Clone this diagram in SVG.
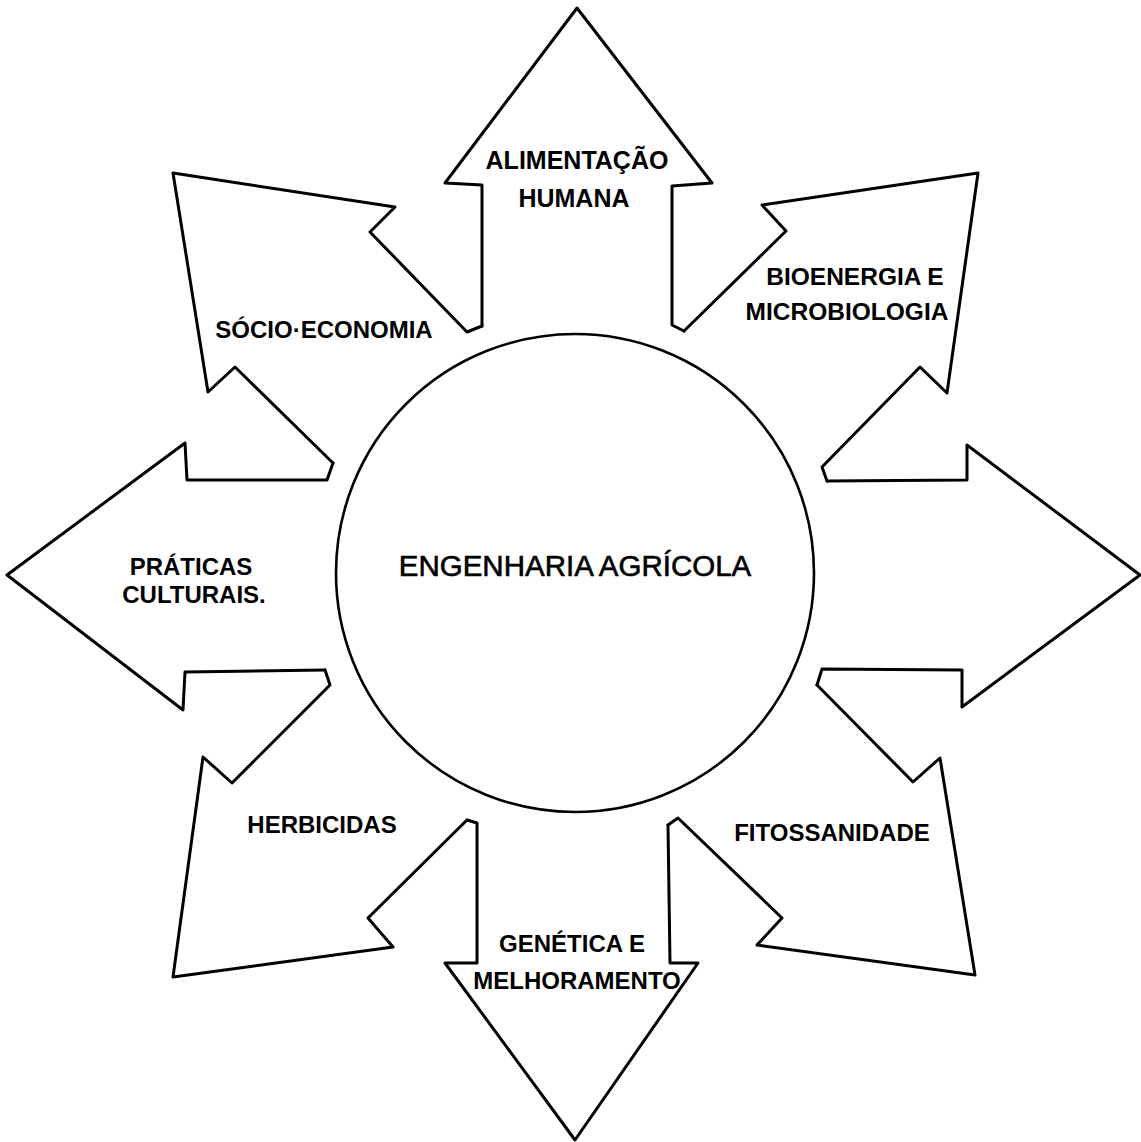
<svg xmlns="http://www.w3.org/2000/svg" width="1141" height="1142" viewBox="0 0 1141 1142">
  <style>
    .outline { fill: none; stroke: #000; stroke-width: 3; stroke-linejoin: round; stroke-linecap: round; }
    .hub { fill: none; stroke: #000; stroke-width: 2.6; }
    .lbl { font-family: "Liberation Sans", Arial, Helvetica, sans-serif; font-weight: bold; font-size: 24px; fill: #000; text-anchor: middle; }
    .hub-lbl { font-family: "Liberation Sans", Arial, Helvetica, sans-serif; font-size: 29.5px; fill: #000; stroke: #000; stroke-width: 0.6; text-anchor: middle; }
  </style>
  <rect width="1141" height="1142" fill="#fff"/>

  <!-- central hub -->
  <g id="engenharia-agricola">
    <circle class="hub" cx="575" cy="573" r="239"/>
    <text class="hub-lbl" x="575" y="576">ENGENHARIA AGRÍCOLA</text>
  </g>

  <!-- the eight arrows share their shaft ends, forming one closed outline around the hub -->
  <g id="connectors">
    <g id="alimentacao-humana">
      <polyline class="outline" points="482,326 482,185 445,183 577,8 712,183 672,186 672,325 684,331"/>
      <text class="lbl" x="577" y="169" style="font-size:25px">ALIMENTAÇÃO</text>
      <text class="lbl" x="574" y="207" style="font-size:25px">HUMANA</text>
    </g>
    <g id="bioenergia-microbiologia">
      <polyline class="outline" points="684,331 786,231 762,205 978,173 947,393 920,367 822,467 827,481"/>
      <text class="lbl" x="855" y="285" style="font-size:24.5px">BIOENERGIA E</text>
      <text class="lbl" x="847" y="320" style="font-size:24.5px">MICROBIOLOGIA</text>
    </g>
    <g id="seta-direita">
      <polyline class="outline" points="827,481 967,480 967,445 1140,575 962,707 962,670 822,669 817,685"/>
    </g>
    <g id="fitossanidade">
      <polyline class="outline" points="817,685 913,782 940,758 975,975 757,945 782,918 678,818 668,825"/>
      <text class="lbl" x="832" y="841">FITOSSANIDADE</text>
    </g>
    <g id="genetica-melhoramento">
      <polyline class="outline" points="668,825 670,963 698,963 575,1140 445,963 477,963 477,823 467,820"/>
      <text class="lbl" x="572" y="952">GENÉTICA E</text>
      <text class="lbl" x="577" y="989">MELHORAMENTO</text>
    </g>
    <g id="herbicidas">
      <polyline class="outline" points="467,820 368,918 393,947 173,977 203,757 232,783 330,685 325,670"/>
      <text class="lbl" x="322" y="833">HERBICIDAS</text>
    </g>
    <g id="praticas-culturais">
      <polyline class="outline" points="325,670 185,672 183,710 7,575 185,443 187,480 327,480 333,463"/>
      <text class="lbl" x="191" y="575">PRÁTICAS</text>
      <text class="lbl" x="194" y="603">CULTURAIS.</text>
    </g>
    <g id="socio-economia">
      <polyline class="outline" points="333,463 235,367 208,392 173,173 395,207 370,232 467,332 482,326"/>
      <text class="lbl" x="324" y="338">SÓCIO·ECONOMIA</text>
    </g>
  </g>
</svg>
